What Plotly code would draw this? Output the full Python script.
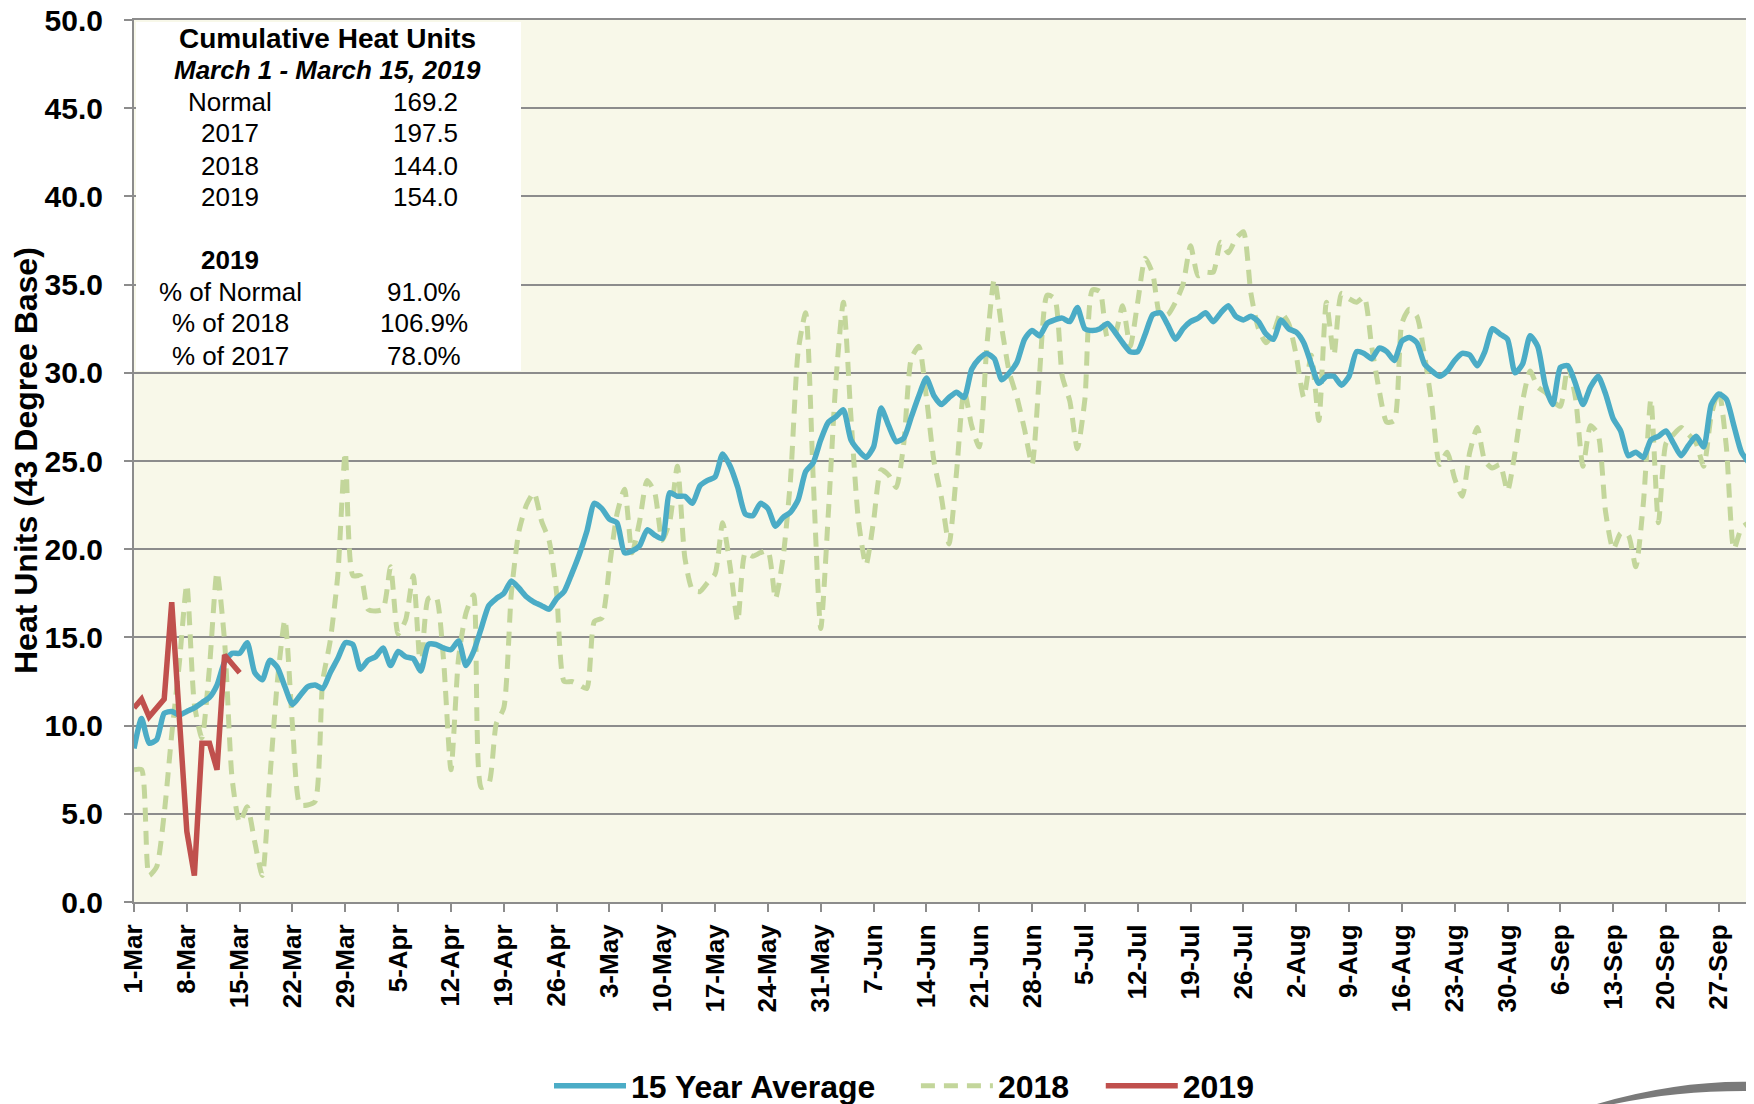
import plotly.graph_objects as go
import pandas as pd

# ---------------- data ----------------
start_date = "2019-03-01"

avg15 = [
    8.7, 10.4, 9.0, 9.2, 10.7, 10.8, 10.6,
    10.8, 11.0, 11.3, 11.6, 12.3, 13.6, 14.1,
    14.1, 14.7, 13.0, 12.6, 13.7, 13.3, 12.2,
    11.2, 11.7, 12.2, 12.3, 12.1, 13.0, 13.8,
    14.7, 14.6, 13.2, 13.7, 13.9, 14.4, 13.4,
    14.2, 13.9, 13.8, 13.1, 14.6, 14.6, 14.4,
    14.3, 14.8, 13.4, 14.2, 15.5, 16.8, 17.2,
    17.5, 18.2, 17.8, 17.3, 17.0, 16.8, 16.6,
    17.2, 17.6, 18.6, 19.7, 21.0, 22.6, 22.3,
    21.7, 21.5, 19.8, 19.9, 20.2, 21.1, 20.8,
    20.6, 23.2, 23.0, 23.0, 22.6, 23.6, 23.9,
    24.1, 25.4, 24.7, 23.5, 22.0, 21.9, 22.6,
    22.3, 21.3, 21.8, 22.1, 22.8, 24.4, 24.9,
    26.2, 27.2, 27.5, 27.9, 26.2, 25.6, 25.2,
    25.8, 28.0, 27.0, 26.1, 26.3, 27.5, 28.7,
    29.7, 28.7, 28.2, 28.6, 28.9, 28.6, 30.2,
    30.8, 31.1, 30.8, 29.6, 30.0, 30.6, 31.9,
    32.4, 32.1, 32.8, 33.0, 33.1, 32.9, 33.7,
    32.5, 32.4, 32.5, 32.8, 32.3, 31.7, 31.2,
    31.2, 32.2, 33.3, 33.4, 32.7, 31.9, 32.5,
    32.9, 33.1, 33.4, 32.9, 33.4, 33.8, 33.2,
    33.0, 33.2, 32.9, 32.2, 31.9, 33.0, 32.5,
    32.3, 31.7, 30.5, 29.4, 29.8, 29.8, 29.3,
    29.8, 31.2, 31.1, 30.8, 31.4, 31.2, 30.7,
    31.8, 32.0, 31.7, 30.5, 30.1, 29.8, 30.1,
    30.7, 31.1, 31.0, 30.4, 31.2, 32.5, 32.2,
    31.9, 30.0, 30.5, 32.1, 31.5, 29.3, 28.2,
    30.3, 30.4, 29.4, 28.2, 29.2, 29.8, 28.8,
    27.4, 26.7, 25.3, 25.5, 25.2, 26.2, 26.4,
    26.7, 26.0, 25.3, 25.9, 26.4, 25.8, 28.2,
    28.8, 28.5, 27.0, 25.5, 24.9,
]

y2018 = [
    7.5, 7.5, 1.5, 2.0, 5.0, 9.5, 13.5,
    18.0, 11.2, 9.3, 13.3, 18.7, 14.8, 7.0,
    4.5, 5.4, 3.4, 1.5, 7.0, 12.5, 16.0,
    10.0, 5.5, 5.5, 5.7, 12.5, 14.8, 18.5,
    25.5, 18.5, 18.5, 16.6, 16.5, 16.6, 19.0,
    15.2, 16.0, 18.5, 13.1, 17.2, 17.3, 13.8,
    7.5, 13.8, 16.4, 17.4, 6.5, 6.7, 10.1,
    11.0, 17.5, 21.0, 22.5, 23.2, 21.6, 20.5,
    17.5, 12.5, 12.5, 12.3, 12.1, 15.9, 16.1,
    19.0, 22.0, 23.4, 19.8, 21.6, 23.9, 23.2,
    20.5, 21.6, 24.7, 19.5, 17.7, 17.6, 18.1,
    18.6, 21.5, 19.0, 15.9, 19.8, 19.6, 19.8,
    19.9, 17.2, 19.5, 24.0, 31.2, 33.4, 24.0,
    15.5, 22.0, 29.5, 34.0, 27.5, 21.6, 19.1,
    21.6, 24.5, 24.2, 23.5, 26.0, 30.8, 31.5,
    28.6, 25.0, 22.9, 20.3, 24.4, 29.0, 27.0,
    25.8, 31.5, 35.3, 32.5, 30.0, 28.6, 26.8,
    24.8, 30.0, 34.4, 34.2, 29.8, 28.4, 25.7,
    28.5, 34.7, 34.6, 32.0, 32.2, 33.8, 31.5,
    34.0, 36.5, 35.6, 33.2, 33.3, 34.0, 35.0,
    37.2, 35.5, 35.7, 35.7, 37.4, 36.8, 37.6,
    38.0, 34.5, 32.5, 31.7, 32.3, 33.4, 32.8,
    31.0, 28.6, 31.0, 27.3, 34.0, 31.0, 34.5,
    34.2, 34.0, 34.3, 31.5, 29.0, 27.2, 27.3,
    32.8, 33.6, 33.2, 31.0, 28.1, 24.8, 25.5,
    24.0, 23.0, 25.5, 26.9, 25.0, 24.6, 24.8,
    23.3, 25.5, 28.4, 30.1, 29.2, 28.9, 28.4,
    28.1, 30.4, 28.6, 24.7, 27.0, 26.5, 22.1,
    20.0, 20.9, 20.8, 19.0, 22.6, 28.5, 21.5,
    26.0, 26.5, 26.9, 26.5, 26.0, 24.7, 27.6,
    29.0, 25.8, 20.0, 21.2, 21.5,
]

y2019 = [11.0, 11.5, 10.5, 11.0, 11.5, 17.0, 10.5, 4.0, 1.5, 9.0, 9.0, 7.5, 14.0, 13.5, 13.0]

series_names = ["15 Year Average", "2018", "2019"]

box_title = "Cumulative Heat Units"
box_subtitle = "March 1 - March 15, 2019"
box_labels = ["Normal", "2017", "2018", "2019"]
box_values = ["169.2", "197.5", "144.0", "154.0"]
pct_header = "2019"
pct_labels = ["% of Normal", "% of 2018", "% of 2017"]
pct_values = ["91.0%", "106.9%", "78.0%"]

y_title = "Heat Units (43 Degree Base)"

# ---------------- layout helpers ----------------
# The page body has an 8px margin, so the figure sits at (8, 8) in the window.
OFF = 8
W, H = 1754 - OFF, 1104 - OFF
# plot area in window pixels: x 134..1749, y 20..902
PL, PR, PT, PB = 134, 1749, 20, 902
L, R, T, B = PL - OFF, W - (PR - OFF), PT - OFF, H - (PB - OFF)
PW, PH = W - L - R, H - T - B


def px(xw):
    """window x pixel -> paper x"""
    return (xw - OFF - L) / PW


def py(yw):
    """window y pixel -> paper y"""
    return (H - B - (yw - OFF)) / PH


FONT = "Liberation Sans, Arial, sans-serif"
NB = "\u00a0"

dates_avg = pd.date_range(start_date, periods=len(avg15), freq="D")
dates_2018 = pd.date_range(start_date, periods=len(y2018), freq="D")
dates_2019 = pd.date_range(start_date, periods=len(y2019), freq="D")

fig = go.Figure()

fig.add_trace(go.Scatter(
    x=dates_2018, y=y2018, mode="lines", name=series_names[1] + NB * 3,
    line=dict(color="#C3D69B", width=5, dash="14px,9px", shape="spline", smoothing=0.6),
    legendrank=2,
))
fig.add_trace(go.Scatter(
    x=dates_avg, y=avg15, mode="lines", name=series_names[0] + NB * 4,
    line=dict(color="#4BACC6", width=5.5, shape="spline", smoothing=0.6),
    legendrank=1,
))
fig.add_trace(go.Scatter(
    x=dates_2019, y=y2019, mode="lines", name=series_names[2],
    line=dict(color="#C0504D", width=5.5),
    legendrank=3,
))

grid = "#8C8C8C"

fig.update_layout(
    width=W, height=H,
    margin=dict(l=L, r=R, t=T, b=B, autoexpand=False),
    paper_bgcolor="white",
    plot_bgcolor="#F8F8E9",
    font=dict(family=FONT, color="black"),
    showlegend=True,
    legend=dict(
        orientation="h", xref="container", yref="container",
        x=(0.5 * (556 + 1253) - OFF - 0.5) / W, y=1 - (1086 - OFF) / H,
        xanchor="center", yanchor="middle",
        font=dict(family=FONT, size=32, weight="bold", color="black"),
        itemwidth=72, traceorder="normal", bgcolor="rgba(0,0,0,0)",
    ),
    xaxis=dict(
        type="date",
        range=[dates_avg[0], dates_avg[-1]],
        tick0=start_date, dtick=7 * 86400000,
        tickformat="%-d-%b", tickangle=-90,
        tickfont=dict(family=FONT, size=26, weight="bold", color="black"),
        ticks="outside", ticklen=8, tickwidth=2, tickcolor=grid,
        showgrid=False, showline=True, linecolor=grid, linewidth=2, mirror=True,
        zeroline=False, ticklabelstandoff=2, automargin=False,
        ticklabeloverflow="allow",
    ),
    yaxis=dict(
        range=[0, 50], dtick=5, tick0=0, tickformat=".1f",
        tickfont=dict(family=FONT, size=30, weight="bold", color="black"),
        ticks="outside", ticklen=8, tickwidth=2, tickcolor=grid,
        showgrid=True, gridcolor=grid, gridwidth=2,
        showline=True, linecolor=grid, linewidth=2, mirror=True,
        zeroline=False, ticklabelstandoff=15, automargin=False,
        ticklabeloverflow="allow",
    ),
)

# white info box over the upper-left of the plot
fig.add_shape(type="rect", xref="paper", yref="paper",
              x0=px(136), x1=px(521), y0=py(371), y1=py(22),
              fillcolor="white", line=dict(width=0), layer="above")

# decorative grey swoosh in lower-right corner
sw = [(1597, 1104), (1680, 1080), (1754, 1082), (1754, 1091), (1680, 1090), (1614, 1104)]
path = (f"M {px(sw[0][0])},{py(sw[0][1])} "
        f"Q {px(sw[1][0])},{py(sw[1][1])} {px(sw[2][0])},{py(sw[2][1])} "
        f"L {px(sw[3][0])},{py(sw[3][1])} "
        f"Q {px(sw[4][0])},{py(sw[4][1])} {px(sw[5][0])},{py(sw[5][1])} Z")
fig.add_shape(type="path", xref="paper", yref="paper", path=path,
              fillcolor="#7A7A7A", line=dict(width=0), layer="above")

ann = []


def add_text(text, x, y, size, bold=False, italic=False, xanchor="center", angle=0):
    t = text
    if italic:
        t = f"<i>{t}</i>"
    ann.append(dict(text=t, x=px(x), y=py(y), xref="paper", yref="paper",
                    xanchor=xanchor, yanchor="middle", showarrow=False, textangle=angle,
                    font=dict(family=FONT, size=size, color="black",
                              weight="bold" if bold else "normal")))


add_text(box_title, 327, 38, 28, bold=True)
add_text(box_subtitle, 327, 70, 26, bold=True, italic=True)
row_y = [102, 133, 166, 197]
for lab, val, yy in zip(box_labels, box_values, row_y):
    add_text(lab, 230, yy, 26)
    add_text(val, 425, yy, 26)
add_text(pct_header, 230, 260, 26, bold=True)
pct_y = [292, 323, 356]
for lab, val, yy in zip(pct_labels, pct_values, pct_y):
    add_text(lab, 230, yy, 26)
    add_text(val, 424, yy, 26)

add_text(y_title, 26, 461, 32, bold=True, angle=-90)

fig.update_layout(annotations=ann)

fig.write_html("out.html")
